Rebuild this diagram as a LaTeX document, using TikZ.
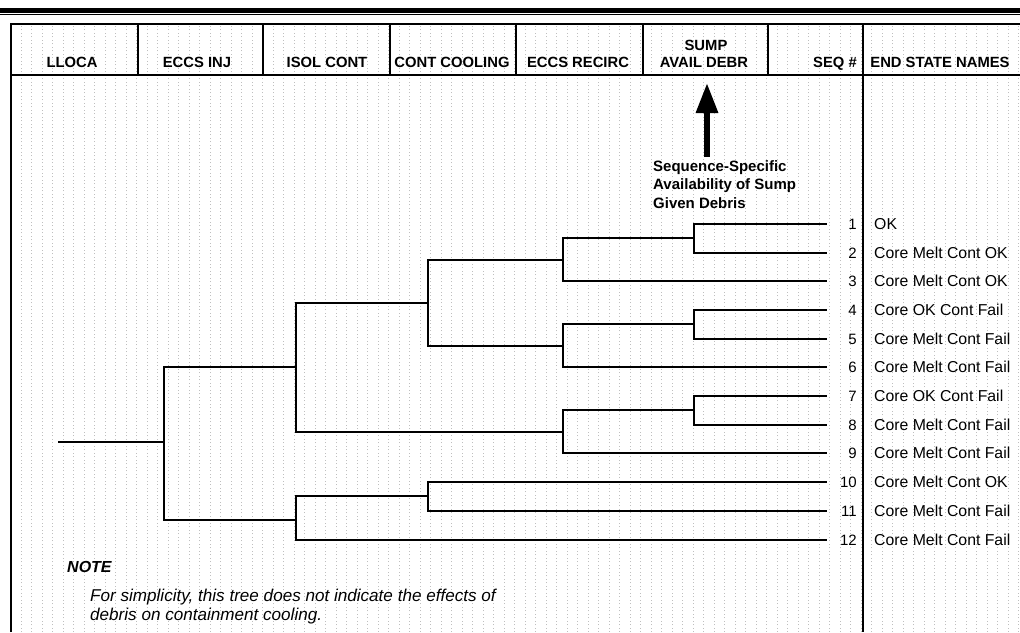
\documentclass[tikz,border=0pt]{standalone}
\usepackage{fontspec}
\setmainfont{Liberation Sans}
\usetikzlibrary{arrows.meta}
\begin{document}
\begin{tikzpicture}[x=1pt,y=-1pt,
  frame/.style={line width=1.6pt},
  branch/.style={line width=1.9pt},
  head/.style={font=\fontsize{14.8}{17}\selectfont\bfseries, anchor=base, inner sep=0pt},
  seqlbl/.style={font=\fontsize{15}{17}\selectfont, anchor=base east, inner sep=0pt},
  endlbl/.style={font=\fontsize{15.8}{18}\selectfont, anchor=base west, inner sep=0pt},
  paper/.style={gray!50, line width=0.5pt, dash pattern=on 0.7pt off 2.8pt}]
\useasboundingbox (0,0) rectangle (1020,632);
\fill[white] (0,0) rectangle (1020,632);
% graph paper texture
\draw[paper] (11,24) grid[xstep=10.5, ystep=10.5] (1020,632);
% top rule
\fill[black] (0,7.5) rectangle (1020,12.5);
\draw[line width=1pt] (0,14) -- (1020,14);
% header frame
\draw[frame] (11,632) -- (11,24) -- (1020,24);
\draw[frame] (11,75) -- (1020,75);
\foreach \cx in {138,263,390,516,643,768}
  \draw[frame] (\cx,24) -- (\cx,75);
\draw[frame] (863,24) -- (863,632);
% header texts
\node[head] (hA) at (72,67) {LLOCA};
\node[head] (hB) at (197,67) {ECCS INJ};
\node[head] (hC) at (327,67) {ISOL CONT};
\node[head] (hD) at (452,67) {CONT COOLING};
\node[head] (hE) at (578,67) {ECCS RECIRC};
\node[head] (hF1) at (706,50) {SUMP};
\node[head] (hF2) at (704,67) {AVAIL DEBR};
\node[head, anchor=base east] (hG) at (857,67) {SEQ \#};
\node[head] (hH) at (940,67) {END STATE NAMES};
% annotation with arrow
\node[font=\fontsize{15}{18.5}\selectfont\bfseries, align=left, anchor=north west, inner sep=0pt]
  (ann) at (653,160) {Sequence-Specific\\Availability of Sump\\Given Debris};
\coordinate (annTop) at (707,157);
\coordinate (annTip) at (707,83);
\draw[line width=6pt, -{Triangle[length=30pt, width=21pt]}] (annTop) -- (annTip);
% tree coordinates
\coordinate (r0) at (58,442);
\coordinate (n1) at (164,442);
\coordinate (n2) at (296,367);
\coordinate (n10) at (296,520);
\coordinate (n3) at (428,303);
\coordinate (n8) at (563,432);
\coordinate (n4) at (563,260);
\coordinate (n6) at (563,346);
\coordinate (n5) at (694,238);
\coordinate (n7) at (694,324);
\coordinate (n9) at (694,410);
\coordinate (n11) at (428,496);
\foreach \i/\yy in {1/224,2/253,3/281,4/310,5/339,6/367,7/396,8/425,9/453,10/482,11/511,12/540}
  \coordinate (e\i) at (827,\yy);
% tree branches
\draw[branch] (r0) -- (n1);
\draw[branch] (n1) |- (n2);
\draw[branch] (n1) |- (n10);
\draw[branch] (n2) |- (n3);
\draw[branch] (n2) |- (n8);
\draw[branch] (n3) |- (n4);
\draw[branch] (n3) |- (n6);
\draw[branch] (n4) |- (n5);
\draw[branch] (n4) |- (e3);
\draw[branch] (n5) |- (e1);
\draw[branch] (n5) |- (e2);
\draw[branch] (n6) |- (n7);
\draw[branch] (n6) |- (e6);
\draw[branch] (n7) |- (e4);
\draw[branch] (n7) |- (e5);
\draw[branch] (n8) |- (n9);
\draw[branch] (n8) |- (e9);
\draw[branch] (n9) |- (e7);
\draw[branch] (n9) |- (e8);
\draw[branch] (n10) |- (n11);
\draw[branch] (n10) |- (e12);
\draw[branch] (n11) |- (e10);
\draw[branch] (n11) |- (e11);
% sequence numbers and end states
\foreach \i/\yy/\nm in {1/224/OK,
  2/253/Core Melt Cont OK,
  3/281/Core Melt Cont OK,
  4/310/Core OK Cont Fail,
  5/339/Core Melt Cont Fail,
  6/367/Core Melt Cont Fail,
  7/396/Core OK Cont Fail,
  8/425/Core Melt Cont Fail,
  9/453/Core Melt Cont Fail,
  10/482/Core Melt Cont OK,
  11/511/Core Melt Cont Fail,
  12/540/Core Melt Cont Fail}{
  \node[seqlbl] (s\i) at (857,\yy+5) {\i};
  \node[endlbl] (t\i) at (874,\yy+5) {\nm};
}
% note
\node[font=\fontsize{16}{19}\selectfont\bfseries\itshape, anchor=base west, inner sep=0pt] (note) at (67,572) {NOTE};
\node[font=\fontsize{17.1}{19}\selectfont\itshape, anchor=base west, inner sep=0pt] (note1) at (90,601) {For simplicity, this tree does not indicate the effects of};
\node[font=\fontsize{17.1}{19}\selectfont\itshape, anchor=base west, inner sep=0pt] (note2) at (90,620) {debris on containment cooling.};
\end{tikzpicture}
\end{document}
